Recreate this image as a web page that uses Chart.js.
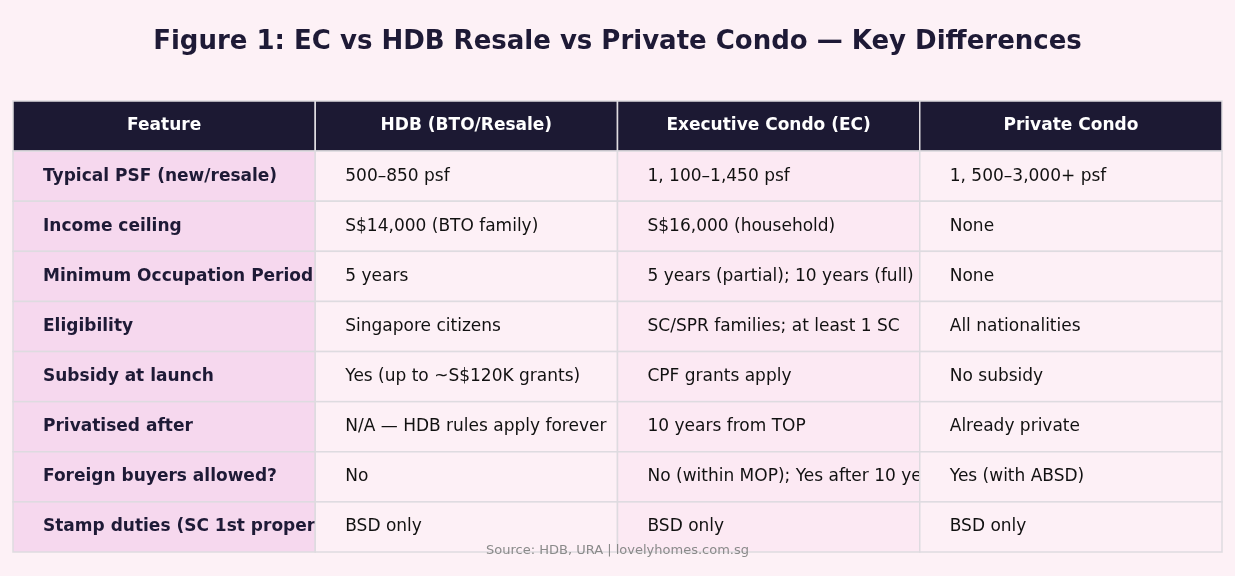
<!DOCTYPE html>
<html lang="en">
<head>
    <meta charset="UTF-8">
    <title>EC vs HDB Resale vs Private Condo</title>
    <script src="https://cdn.jsdelivr.net/npm/chart.js"></script>
    <style>
        html, body { margin: 0; padding: 0; background: #fdf1f6; }
        #tableChart { display: block; }
    </style>
</head>
<body>
    <canvas id="tableChart" width="1235" height="576"></canvas>

    <script>
        const headers = ['Feature', 'HDB (BTO/Resale)', 'Executive Condo (EC)', 'Private Condo'];
        const features = ['Typical PSF (new/resale)', 'Income ceiling', 'Minimum Occupation Period', 'Eligibility',
            'Subsidy at launch', 'Privatised after', 'Foreign buyers allowed?', 'Stamp duties (SC 1st property)'];
        const hdbValues = ['500–850 psf', 'S$14,000 (BTO family)', '5 years', 'Singapore citizens',
            'Yes (up to ~S$120K grants)', 'N/A — HDB rules apply forever', 'No', 'BSD only'];
        const ecValues = ['1, 100–1,450 psf', 'S$16,000 (household)', '5 years (partial); 10 years (full)',
            'SC/SPR families; at least 1 SC', 'CPF grants apply', '10 years from TOP',
            'No (within MOP); Yes after 10 years', 'BSD only'];
        const privateValues = ['1, 500–3,000+ psf', 'None', 'None', 'All nationalities', 'No subsidy',
            'Already private', 'Yes (with ABSD)', 'BSD only'];

        const columns = [features, hdbValues, ecValues, privateValues];
        const FONT = '"DejaVu Sans", sans-serif';

        // draws the table cells using the chart's own x/y scales
        const tablePlugin = {
            id: 'tablePlugin',
            beforeDraw(chart) {
                const ctx = chart.ctx;
                ctx.save();
                ctx.fillStyle = '#fdf1f6';
                ctx.fillRect(0, 0, chart.width, chart.height);
                ctx.fillStyle = '#1e1a36';
                ctx.font = 'bold 26px ' + FONT;
                ctx.textAlign = 'center';
                ctx.textBaseline = 'middle';
                ctx.fillText('Figure 1: EC vs HDB Resale vs Private Condo — Key Differences', chart.width / 2, 42);
                ctx.restore();
            },
            afterDraw(chart) {
                const ctx = chart.ctx;
                const xs = chart.scales.x, ys = chart.scales.y;
                const nRows = features.length + 1;
                ctx.save();
                for (let c = 0; c < headers.length; c++) {
                    const x0 = xs.getPixelForValue(c), x1 = xs.getPixelForValue(c + 1);
                    for (let r = 0; r < nRows; r++) {
                        const y0 = ys.getPixelForValue(r), y1 = ys.getPixelForValue(r + 1);
                        let bg, color, font, text, align;
                        if (r === 0) {
                            bg = '#1c1933'; color = '#ffffff'; font = 'bold 17px ' + FONT; text = headers[c]; align = 'center';
                        } else {
                            text = columns[c][r - 1];
                            align = 'left';
                            if (c === 0) { bg = '#f6d8ee'; color = '#1e1a36'; font = 'bold 17px ' + FONT; }
                            else { bg = c === 2 ? '#fce9f3' : '#fdf0f6'; color = '#111111'; font = '17px ' + FONT; }
                        }
                        ctx.fillStyle = bg;
                        ctx.fillRect(x0, y0, x1 - x0, y1 - y0);
                        ctx.strokeStyle = '#dedbe0';
                        ctx.lineWidth = 1.5;
                        ctx.strokeRect(x0, y0, x1 - x0, y1 - y0);

                        ctx.save();
                        ctx.beginPath();
                        ctx.rect(x0, y0, x1 - x0, y1 - y0);
                        ctx.clip();
                        ctx.fillStyle = color;
                        ctx.font = font;
                        ctx.textBaseline = 'middle';
                        ctx.textAlign = align;
                        const tx = align === 'center' ? (x0 + x1) / 2 : x0 + 30;
                        ctx.fillText(text, tx, (y0 + y1) / 2);
                        ctx.restore();
                    }
                }
                ctx.fillStyle = '#8a8a8a';
                ctx.font = '13px ' + FONT;
                ctx.textAlign = 'center';
                ctx.textBaseline = 'middle';
                ctx.fillText('Source: HDB, URA | lovelyhomes.com.sg', chart.width / 2, 551);
                ctx.restore();
            }
        };

        new Chart(document.getElementById('tableChart'), {
            type: 'scatter',
            data: { datasets: [] },
            options: {
                responsive: false,
                animation: false,
                layout: { padding: { left: 13, right: 13, top: 101, bottom: 24 } },
                plugins: { legend: { display: false }, tooltip: { enabled: false } },
                scales: {
                    x: { type: 'linear', min: 0, max: headers.length, display: false },
                    y: { type: 'linear', min: 0, max: features.length + 1, reverse: true, display: false }
                }
            },
            plugins: [tablePlugin]
        });
    </script>
</body>
</html>
